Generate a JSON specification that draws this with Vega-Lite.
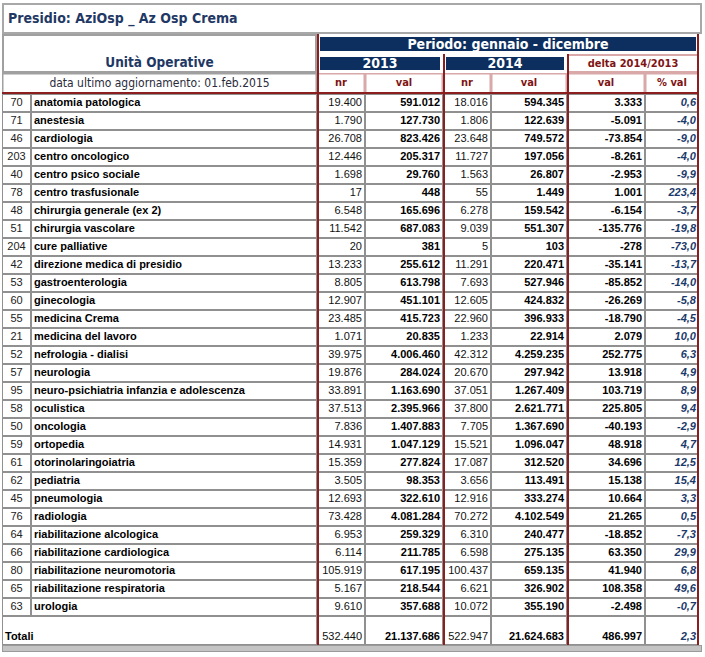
{
  "$schema": "https://vega.github.io/schema/vega-lite/v6.json",
  "background": "white",
  "padding": {"left": 2, "top": 3, "right": 0, "bottom": 0},
  "config": {
    "locale": {"number": {"decimal": ",", "thousands": ".", "grouping": [3], "currency": ["€", ""], "minus": "-"}},
    "view": {"stroke": null},
    "concat": {"spacing": 0}
  },
  "datasets": {
    "one": [{"k": 1}],
    "units": [
      {"code": 70, "unit": "anatomia patologica", "nr2013": 19400, "val2013": 591012, "nr2014": 18016, "val2014": 594345, "delta": 3333, "pct": 0.6},
      {"code": 71, "unit": "anestesia", "nr2013": 1790, "val2013": 127730, "nr2014": 1806, "val2014": 122639, "delta": -5091, "pct": -4.0},
      {"code": 46, "unit": "cardiologia", "nr2013": 26708, "val2013": 823426, "nr2014": 23648, "val2014": 749572, "delta": -73854, "pct": -9.0},
      {"code": 203, "unit": "centro oncologico", "nr2013": 12446, "val2013": 205317, "nr2014": 11727, "val2014": 197056, "delta": -8261, "pct": -4.0},
      {"code": 40, "unit": "centro psico sociale", "nr2013": 1698, "val2013": 29760, "nr2014": 1563, "val2014": 26807, "delta": -2953, "pct": -9.9},
      {"code": 78, "unit": "centro trasfusionale", "nr2013": 17, "val2013": 448, "nr2014": 55, "val2014": 1449, "delta": 1001, "pct": 223.4},
      {"code": 48, "unit": "chirurgia generale (ex 2)", "nr2013": 6548, "val2013": 165696, "nr2014": 6278, "val2014": 159542, "delta": -6154, "pct": -3.7},
      {"code": 51, "unit": "chirurgia vascolare", "nr2013": 11542, "val2013": 687083, "nr2014": 9039, "val2014": 551307, "delta": -135776, "pct": -19.8},
      {"code": 204, "unit": "cure palliative", "nr2013": 20, "val2013": 381, "nr2014": 5, "val2014": 103, "delta": -278, "pct": -73.0},
      {"code": 42, "unit": "direzione medica di presidio", "nr2013": 13233, "val2013": 255612, "nr2014": 11291, "val2014": 220471, "delta": -35141, "pct": -13.7},
      {"code": 53, "unit": "gastroenterologia", "nr2013": 8805, "val2013": 613798, "nr2014": 7693, "val2014": 527946, "delta": -85852, "pct": -14.0},
      {"code": 60, "unit": "ginecologia", "nr2013": 12907, "val2013": 451101, "nr2014": 12605, "val2014": 424832, "delta": -26269, "pct": -5.8},
      {"code": 55, "unit": "medicina Crema", "nr2013": 23485, "val2013": 415723, "nr2014": 22960, "val2014": 396933, "delta": -18790, "pct": -4.5},
      {"code": 21, "unit": "medicina del lavoro", "nr2013": 1071, "val2013": 20835, "nr2014": 1233, "val2014": 22914, "delta": 2079, "pct": 10.0},
      {"code": 52, "unit": "nefrologia - dialisi", "nr2013": 39975, "val2013": 4006460, "nr2014": 42312, "val2014": 4259235, "delta": 252775, "pct": 6.3},
      {"code": 57, "unit": "neurologia", "nr2013": 19876, "val2013": 284024, "nr2014": 20670, "val2014": 297942, "delta": 13918, "pct": 4.9},
      {"code": 95, "unit": "neuro-psichiatria infanzia e adolescenza", "nr2013": 33891, "val2013": 1163690, "nr2014": 37051, "val2014": 1267409, "delta": 103719, "pct": 8.9},
      {"code": 58, "unit": "oculistica", "nr2013": 37513, "val2013": 2395966, "nr2014": 37800, "val2014": 2621771, "delta": 225805, "pct": 9.4},
      {"code": 50, "unit": "oncologia", "nr2013": 7836, "val2013": 1407883, "nr2014": 7705, "val2014": 1367690, "delta": -40193, "pct": -2.9},
      {"code": 59, "unit": "ortopedia", "nr2013": 14931, "val2013": 1047129, "nr2014": 15521, "val2014": 1096047, "delta": 48918, "pct": 4.7},
      {"code": 61, "unit": "otorinolaringoiatria", "nr2013": 15359, "val2013": 277824, "nr2014": 17087, "val2014": 312520, "delta": 34696, "pct": 12.5},
      {"code": 62, "unit": "pediatria", "nr2013": 3505, "val2013": 98353, "nr2014": 3656, "val2014": 113491, "delta": 15138, "pct": 15.4},
      {"code": 45, "unit": "pneumologia", "nr2013": 12693, "val2013": 322610, "nr2014": 12916, "val2014": 333274, "delta": 10664, "pct": 3.3},
      {"code": 76, "unit": "radiologia", "nr2013": 73428, "val2013": 4081284, "nr2014": 70272, "val2014": 4102549, "delta": 21265, "pct": 0.5},
      {"code": 64, "unit": "riabilitazione alcologica", "nr2013": 6953, "val2013": 259329, "nr2014": 6310, "val2014": 240477, "delta": -18852, "pct": -7.3},
      {"code": 66, "unit": "riabilitazione cardiologica", "nr2013": 6114, "val2013": 211785, "nr2014": 6598, "val2014": 275135, "delta": 63350, "pct": 29.9},
      {"code": 80, "unit": "riabilitazione neuromotoria", "nr2013": 105919, "val2013": 617195, "nr2014": 100437, "val2014": 659135, "delta": 41940, "pct": 6.8},
      {"code": 65, "unit": "riabilitazione respiratoria", "nr2013": 5167, "val2013": 218544, "nr2014": 6621, "val2014": 326902, "delta": 108358, "pct": 49.6},
      {"code": 63, "unit": "urologia", "nr2013": 9610, "val2013": 357688, "nr2014": 10072, "val2014": 355190, "delta": -2498, "pct": -0.7}
    ],
    "totali": [
      {"label": "Totali", "nr2013": 532440, "val2013": 21137686, "nr2014": 522947, "val2014": 21624683, "delta": 486997, "pct": 2.3}
    ]
  },
  "spacing": 0,
  "vconcat": [
    {
      "width": 700, "height": 31, "data": {"name": "one"},
      "layer": [
        {"mark": {"type": "rect", "clip": true, "fill": "white", "stroke": "#a8a8a8", "strokeWidth": 4}, "encoding": {}},
        {"mark": {"type": "text", "clip": true, "text": "Presidio: AziOsp _ Az Osp Crema", "align": "left", "dx": 6, "font": "Liberation Sans Narrow, DejaVu Sans Condensed, sans-serif", "fontSize": 14, "fontWeight": "bold", "fill": "#1f3864"},
         "encoding": {"x": {"datum": 0, "type": "quantitative", "scale": {"domain": [0, 1]}, "axis": null}}}
      ]
    },
    {
      "spacing": 0,
      "hconcat": [
        {
          "spacing": 0,
          "vconcat": [
            {
              "width": 315, "height": 39, "data": {"name": "one"},
              "layer": [
                {"mark": {"type": "rect", "clip": true, "fill": "white", "stroke": "#a0a0a0", "strokeWidth": 4}, "encoding": {}},
                {"mark": {"type": "text", "clip": true, "text": "Unità Operative", "dy": 9, "font": "Liberation Sans Narrow, DejaVu Sans Condensed, sans-serif", "fontSize": 13.5, "fontWeight": "bold", "fill": "#1f3864"}, "encoding": {}}
              ]
            },
            {
              "width": 315, "height": 21, "data": {"name": "one"},
              "layer": [
                {"mark": {"type": "rect", "clip": true, "fill": "white", "stroke": "#a0a0a0", "strokeWidth": 3}, "encoding": {}},
                {"mark": {"type": "text", "clip": true, "text": "data ultimo aggiornamento: 01.feb.2015", "dy": -1, "font": "Liberation Sans Narrow, DejaVu Sans Condensed, sans-serif", "fontSize": 12, "fill": "#2b2b3b"}, "encoding": {}},
                {"mark": {"type": "rule", "clip": true, "color": "#8b1f1f", "strokeWidth": 4}, "encoding": {"y": {"datum": 0, "type": "quantitative", "scale": {"domain": [0, 1]}, "axis": null}}}
              ]
            }
          ]
        },
        {
          "spacing": 0,
          "vconcat": [
            {
              "width": 382, "height": 20, "data": {"name": "one"},
              "layer": [
                {"mark": {"type": "rect", "clip": true, "fill": "#0d2f5f", "stroke": "white", "strokeWidth": 6}, "encoding": {}},
                {"mark": {"type": "text", "clip": true, "text": "Periodo: gennaio - dicembre", "dy": 1, "font": "Liberation Sans Narrow, DejaVu Sans Condensed, sans-serif", "fontSize": 14, "fontWeight": "bold", "fill": "white"}, "encoding": {}},
                {"mark": {"type": "rule", "clip": true, "color": "#8b1f1f", "strokeWidth": 4}, "encoding": {"x": {"datum": 0, "type": "quantitative", "scale": {"domain": [0, 1]}, "axis": null}}},
                {"mark": {"type": "rule", "clip": true, "color": "#8b1f1f", "strokeWidth": 4}, "encoding": {"x": {"datum": 1, "type": "quantitative", "scale": {"domain": [0, 1]}, "axis": null}}}
              ]
            },
            {
              "spacing": 0,
              "hconcat": [
                {
                  "width": 126, "height": 19, "data": {"name": "one"},
                  "layer": [
                    {"mark": {"type": "rect", "clip": true, "fill": "#0d2f5f", "stroke": "white", "strokeWidth": 6}, "encoding": {}},
                    {"mark": {"type": "text", "clip": true, "text": "2013", "font": "Liberation Sans Narrow, DejaVu Sans Condensed, sans-serif", "fontSize": 14, "fontWeight": "bold", "fill": "white"}, "encoding": {}},
                    {"mark": {"type": "rule", "clip": true, "color": "#8b1f1f", "strokeWidth": 4}, "encoding": {"x": {"datum": 0, "type": "quantitative", "scale": {"domain": [0, 1]}, "axis": null}}}
                  ]
                },
                {
                  "width": 124, "height": 19, "data": {"name": "one"},
                  "layer": [
                    {"mark": {"type": "rect", "clip": true, "fill": "#0d2f5f", "stroke": "white", "strokeWidth": 6}, "encoding": {}},
                    {"mark": {"type": "text", "clip": true, "text": "2014", "font": "Liberation Sans Narrow, DejaVu Sans Condensed, sans-serif", "fontSize": 14, "fontWeight": "bold", "fill": "white"}, "encoding": {}},
                    {"mark": {"type": "rule", "clip": true, "color": "#8b1f1f", "strokeWidth": 4}, "encoding": {"x": {"datum": 0, "type": "quantitative", "scale": {"domain": [0, 1]}, "axis": null}}}
                  ]
                },
                {
                  "width": 132, "height": 19, "data": {"name": "one"},
                  "layer": [
                    {"mark": {"type": "rect", "clip": true, "fill": "white", "stroke": "#d9a8a8", "strokeWidth": 4}, "encoding": {}},
                    {"mark": {"type": "text", "clip": true, "text": "delta 2014/2013", "font": "Liberation Sans Narrow, DejaVu Sans Condensed, sans-serif", "fontSize": 11, "fontWeight": "bold", "fill": "#7f1414"}, "encoding": {}},
                    {"mark": {"type": "rule", "clip": true, "color": "#8b1f1f", "strokeWidth": 4}, "encoding": {"x": {"datum": 0, "type": "quantitative", "scale": {"domain": [0, 1]}, "axis": null}}},
                    {"mark": {"type": "rule", "clip": true, "color": "#8b1f1f", "strokeWidth": 4}, "encoding": {"x": {"datum": 1, "type": "quantitative", "scale": {"domain": [0, 1]}, "axis": null}}}
                  ]
                }
              ]
            },
            {
              "spacing": 0,
              "hconcat": [
                {
                  "width": 48, "height": 21, "data": {"name": "one"},
                  "layer": [
                    {"mark": {"type": "rect", "clip": true, "fill": "white", "stroke": "#d9a8a8", "strokeWidth": 3}, "encoding": {}},
                    {"mark": {"type": "text", "clip": true, "text": "nr", "dy": -1, "font": "Liberation Sans Narrow, DejaVu Sans Condensed, sans-serif", "fontSize": 11, "fontWeight": "bold", "fill": "#7f1414"}, "encoding": {}},
                    {"mark": {"type": "rule", "clip": true, "color": "#8b1f1f", "strokeWidth": 4}, "encoding": {"x": {"datum": 0, "type": "quantitative", "scale": {"domain": [0, 1]}, "axis": null}}},
                    {"mark": {"type": "rule", "clip": true, "color": "#8b1f1f", "strokeWidth": 4}, "encoding": {"y": {"datum": 0, "type": "quantitative", "scale": {"domain": [0, 1]}, "axis": null}}}
                  ]
                },
                {
                  "width": 78, "height": 21, "data": {"name": "one"},
                  "layer": [
                    {"mark": {"type": "rect", "clip": true, "fill": "white", "stroke": "#d9a8a8", "strokeWidth": 3}, "encoding": {}},
                    {"mark": {"type": "text", "clip": true, "text": "val", "dy": -1, "font": "Liberation Sans Narrow, DejaVu Sans Condensed, sans-serif", "fontSize": 11, "fontWeight": "bold", "fill": "#7f1414"}, "encoding": {}},
                    {"mark": {"type": "rule", "clip": true, "color": "#8b1f1f", "strokeWidth": 4}, "encoding": {"y": {"datum": 0, "type": "quantitative", "scale": {"domain": [0, 1]}, "axis": null}}}
                  ]
                },
                {
                  "width": 48, "height": 21, "data": {"name": "one"},
                  "layer": [
                    {"mark": {"type": "rect", "clip": true, "fill": "white", "stroke": "#d9a8a8", "strokeWidth": 3}, "encoding": {}},
                    {"mark": {"type": "text", "clip": true, "text": "nr", "dy": -1, "font": "Liberation Sans Narrow, DejaVu Sans Condensed, sans-serif", "fontSize": 11, "fontWeight": "bold", "fill": "#7f1414"}, "encoding": {}},
                    {"mark": {"type": "rule", "clip": true, "color": "#8b1f1f", "strokeWidth": 4}, "encoding": {"x": {"datum": 0, "type": "quantitative", "scale": {"domain": [0, 1]}, "axis": null}}},
                    {"mark": {"type": "rule", "clip": true, "color": "#8b1f1f", "strokeWidth": 4}, "encoding": {"y": {"datum": 0, "type": "quantitative", "scale": {"domain": [0, 1]}, "axis": null}}}
                  ]
                },
                {
                  "width": 76, "height": 21, "data": {"name": "one"},
                  "layer": [
                    {"mark": {"type": "rect", "clip": true, "fill": "white", "stroke": "#d9a8a8", "strokeWidth": 3}, "encoding": {}},
                    {"mark": {"type": "text", "clip": true, "text": "val", "dy": -1, "font": "Liberation Sans Narrow, DejaVu Sans Condensed, sans-serif", "fontSize": 11, "fontWeight": "bold", "fill": "#7f1414"}, "encoding": {}},
                    {"mark": {"type": "rule", "clip": true, "color": "#8b1f1f", "strokeWidth": 4}, "encoding": {"y": {"datum": 0, "type": "quantitative", "scale": {"domain": [0, 1]}, "axis": null}}}
                  ]
                },
                {
                  "width": 78, "height": 21, "data": {"name": "one"},
                  "layer": [
                    {"mark": {"type": "rect", "clip": true, "fill": "white", "stroke": "#d9a8a8", "strokeWidth": 3}, "encoding": {}},
                    {"mark": {"type": "text", "clip": true, "text": "val", "dy": -1, "font": "Liberation Sans Narrow, DejaVu Sans Condensed, sans-serif", "fontSize": 11, "fontWeight": "bold", "fill": "#7f1414"}, "encoding": {}},
                    {"mark": {"type": "rule", "clip": true, "color": "#8b1f1f", "strokeWidth": 4}, "encoding": {"x": {"datum": 0, "type": "quantitative", "scale": {"domain": [0, 1]}, "axis": null}}},
                    {"mark": {"type": "rule", "clip": true, "color": "#8b1f1f", "strokeWidth": 4}, "encoding": {"y": {"datum": 0, "type": "quantitative", "scale": {"domain": [0, 1]}, "axis": null}}}
                  ]
                },
                {
                  "width": 54, "height": 21, "data": {"name": "one"},
                  "layer": [
                    {"mark": {"type": "rect", "clip": true, "fill": "white", "stroke": "#d9a8a8", "strokeWidth": 3}, "encoding": {}},
                    {"mark": {"type": "text", "clip": true, "text": "% val", "dy": -1, "font": "Liberation Sans Narrow, DejaVu Sans Condensed, sans-serif", "fontSize": 11, "fontWeight": "bold", "fill": "#7f1414"}, "encoding": {}},
                    {"mark": {"type": "rule", "clip": true, "color": "#8b1f1f", "strokeWidth": 4}, "encoding": {"x": {"datum": 1, "type": "quantitative", "scale": {"domain": [0, 1]}, "axis": null}}},
                    {"mark": {"type": "rule", "clip": true, "color": "#8b1f1f", "strokeWidth": 4}, "encoding": {"y": {"datum": 0, "type": "quantitative", "scale": {"domain": [0, 1]}, "axis": null}}}
                  ]
                }
              ]
            }
          ]
        }
      ]
    },
    {
      "spacing": 0,
      "hconcat": [
        {
          "width": 29, "height": 522, "data": {"name": "units"},
          "layer": [
            {"mark": {"type": "rect", "clip": true, "fill": "white", "stroke": "#909090", "strokeWidth": 2}, "encoding": {"y": {"field": "unit", "type": "nominal", "sort": null, "axis": null, "scale": {"paddingInner": 0, "paddingOuter": 0}}}},
            {"mark": {"type": "text", "clip": true, "font": "Liberation Sans, Arial, sans-serif", "fontSize": 11, "fill": "#222"},
             "encoding": {"y": {"field": "unit", "type": "nominal", "sort": null, "axis": null}, "text": {"field": "code", "type": "nominal"}}}
          ]
        },
        {
          "width": 286, "height": 522, "data": {"name": "units"},
          "layer": [
            {"mark": {"type": "rect", "clip": true, "fill": "white", "stroke": "#909090", "strokeWidth": 2}, "encoding": {"y": {"field": "unit", "type": "nominal", "sort": null, "axis": null, "scale": {"paddingInner": 0, "paddingOuter": 0}}}},
            {"mark": {"type": "text", "clip": true, "align": "left", "dx": 3, "font": "Liberation Sans, Arial, sans-serif", "fontSize": 11, "fontWeight": "bold", "fill": "#000"},
             "encoding": {"y": {"field": "unit", "type": "nominal", "sort": null, "axis": null}, "x": {"datum": 0, "type": "quantitative", "scale": {"domain": [0, 1]}, "axis": null}, "text": {"field": "unit", "type": "nominal"}}}
          ]
        },
        {
          "width": 48, "height": 522, "data": {"name": "units"},
          "layer": [
            {"mark": {"type": "rect", "clip": true, "fill": "white", "stroke": "#909090", "strokeWidth": 2}, "encoding": {"y": {"field": "unit", "type": "nominal", "sort": null, "axis": null, "scale": {"paddingInner": 0, "paddingOuter": 0}}}},
            {"mark": {"type": "text", "clip": true, "align": "right", "dx": -3, "font": "Liberation Sans, Arial, sans-serif", "fontSize": 11, "fill": "#111"},
             "encoding": {"y": {"field": "unit", "type": "nominal", "sort": null, "axis": null}, "x": {"datum": 1, "type": "quantitative", "scale": {"domain": [0, 1]}, "axis": null}, "text": {"field": "nr2013", "type": "quantitative", "format": ",d"}}},
            {"data": {"name": "one"}, "mark": {"type": "rule", "clip": true, "color": "#8b1f1f", "strokeWidth": 4}, "encoding": {"x": {"datum": 0, "type": "quantitative", "scale": {"domain": [0, 1]}, "axis": null}}}
          ]
        },
        {
          "width": 78, "height": 522, "data": {"name": "units"},
          "layer": [
            {"mark": {"type": "rect", "clip": true, "fill": "white", "stroke": "#909090", "strokeWidth": 2}, "encoding": {"y": {"field": "unit", "type": "nominal", "sort": null, "axis": null, "scale": {"paddingInner": 0, "paddingOuter": 0}}}},
            {"mark": {"type": "text", "clip": true, "align": "right", "dx": -3, "font": "Liberation Sans, Arial, sans-serif", "fontSize": 11, "fontWeight": "bold", "fill": "#000"},
             "encoding": {"y": {"field": "unit", "type": "nominal", "sort": null, "axis": null}, "x": {"datum": 1, "type": "quantitative", "scale": {"domain": [0, 1]}, "axis": null}, "text": {"field": "val2013", "type": "quantitative", "format": ",d"}}}
          ]
        },
        {
          "width": 48, "height": 522, "data": {"name": "units"},
          "layer": [
            {"mark": {"type": "rect", "clip": true, "fill": "white", "stroke": "#909090", "strokeWidth": 2}, "encoding": {"y": {"field": "unit", "type": "nominal", "sort": null, "axis": null, "scale": {"paddingInner": 0, "paddingOuter": 0}}}},
            {"mark": {"type": "text", "clip": true, "align": "right", "dx": -3, "font": "Liberation Sans, Arial, sans-serif", "fontSize": 11, "fill": "#111"},
             "encoding": {"y": {"field": "unit", "type": "nominal", "sort": null, "axis": null}, "x": {"datum": 1, "type": "quantitative", "scale": {"domain": [0, 1]}, "axis": null}, "text": {"field": "nr2014", "type": "quantitative", "format": ",d"}}},
            {"data": {"name": "one"}, "mark": {"type": "rule", "clip": true, "color": "#8b1f1f", "strokeWidth": 4}, "encoding": {"x": {"datum": 0, "type": "quantitative", "scale": {"domain": [0, 1]}, "axis": null}}}
          ]
        },
        {
          "width": 76, "height": 522, "data": {"name": "units"},
          "layer": [
            {"mark": {"type": "rect", "clip": true, "fill": "white", "stroke": "#909090", "strokeWidth": 2}, "encoding": {"y": {"field": "unit", "type": "nominal", "sort": null, "axis": null, "scale": {"paddingInner": 0, "paddingOuter": 0}}}},
            {"mark": {"type": "text", "clip": true, "align": "right", "dx": -3, "font": "Liberation Sans, Arial, sans-serif", "fontSize": 11, "fontWeight": "bold", "fill": "#000"},
             "encoding": {"y": {"field": "unit", "type": "nominal", "sort": null, "axis": null}, "x": {"datum": 1, "type": "quantitative", "scale": {"domain": [0, 1]}, "axis": null}, "text": {"field": "val2014", "type": "quantitative", "format": ",d"}}}
          ]
        },
        {
          "width": 78, "height": 522, "data": {"name": "units"},
          "layer": [
            {"mark": {"type": "rect", "clip": true, "fill": "white", "stroke": "#909090", "strokeWidth": 2}, "encoding": {"y": {"field": "unit", "type": "nominal", "sort": null, "axis": null, "scale": {"paddingInner": 0, "paddingOuter": 0}}}},
            {"mark": {"type": "text", "clip": true, "align": "right", "dx": -3, "font": "Liberation Sans, Arial, sans-serif", "fontSize": 11, "fontWeight": "bold", "fill": "#000"},
             "encoding": {"y": {"field": "unit", "type": "nominal", "sort": null, "axis": null}, "x": {"datum": 1, "type": "quantitative", "scale": {"domain": [0, 1]}, "axis": null}, "text": {"field": "delta", "type": "quantitative", "format": ",d"}}},
            {"data": {"name": "one"}, "mark": {"type": "rule", "clip": true, "color": "#8b1f1f", "strokeWidth": 4}, "encoding": {"x": {"datum": 0, "type": "quantitative", "scale": {"domain": [0, 1]}, "axis": null}}}
          ]
        },
        {
          "width": 54, "height": 522, "data": {"name": "units"},
          "layer": [
            {"mark": {"type": "rect", "clip": true, "fill": "white", "stroke": "#909090", "strokeWidth": 2}, "encoding": {"y": {"field": "unit", "type": "nominal", "sort": null, "axis": null, "scale": {"paddingInner": 0, "paddingOuter": 0}}}},
            {"mark": {"type": "text", "clip": true, "align": "right", "dx": -3, "font": "Liberation Sans, Arial, sans-serif", "fontSize": 11, "fontWeight": "bold", "fontStyle": "italic", "fill": "#1b3a6b"},
             "encoding": {"y": {"field": "unit", "type": "nominal", "sort": null, "axis": null}, "x": {"datum": 1, "type": "quantitative", "scale": {"domain": [0, 1]}, "axis": null}, "text": {"field": "pct", "type": "quantitative", "format": ".1f"}}},
            {"data": {"name": "one"}, "mark": {"type": "rule", "clip": true, "color": "#8b1f1f", "strokeWidth": 4}, "encoding": {"x": {"datum": 1, "type": "quantitative", "scale": {"domain": [0, 1]}, "axis": null}}}
          ]
        }
      ]
    },
    {
      "spacing": 0,
      "hconcat": [
        {
          "width": 315, "height": 29, "data": {"name": "totali"},
          "layer": [
            {"mark": {"type": "rect", "clip": true, "fill": "white", "stroke": "#909090", "strokeWidth": 2}, "encoding": {}},
            {"mark": {"type": "text", "clip": true, "align": "left", "dx": 3, "dy": -8, "font": "Liberation Sans, Arial, sans-serif", "fontSize": 11, "fontWeight": "bold", "fill": "#000"},
             "encoding": {"x": {"datum": 0, "type": "quantitative", "scale": {"domain": [0, 1]}, "axis": null}, "y": {"datum": 0, "type": "quantitative", "scale": {"domain": [0, 1]}, "axis": null}, "text": {"field": "label", "type": "nominal"}}}
          ]
        },
        {
          "width": 48, "height": 29, "data": {"name": "totali"},
          "layer": [
            {"mark": {"type": "rect", "clip": true, "fill": "white", "stroke": "#909090", "strokeWidth": 2}, "encoding": {}},
            {"mark": {"type": "text", "clip": true, "align": "right", "dx": -3, "dy": -8, "font": "Liberation Sans, Arial, sans-serif", "fontSize": 11, "fill": "#111"},
             "encoding": {"x": {"datum": 1, "type": "quantitative", "scale": {"domain": [0, 1]}, "axis": null}, "y": {"datum": 0, "type": "quantitative", "scale": {"domain": [0, 1]}, "axis": null}, "text": {"field": "nr2013", "type": "quantitative", "format": ",d"}}},
            {"mark": {"type": "rule", "clip": true, "color": "#8b1f1f", "strokeWidth": 4}, "encoding": {"x": {"datum": 0, "type": "quantitative", "scale": {"domain": [0, 1]}, "axis": null}}}
          ]
        },
        {
          "width": 78, "height": 29, "data": {"name": "totali"},
          "layer": [
            {"mark": {"type": "rect", "clip": true, "fill": "white", "stroke": "#909090", "strokeWidth": 2}, "encoding": {}},
            {"mark": {"type": "text", "clip": true, "align": "right", "dx": -3, "dy": -8, "font": "Liberation Sans, Arial, sans-serif", "fontSize": 11, "fontWeight": "bold", "fill": "#000"},
             "encoding": {"x": {"datum": 1, "type": "quantitative", "scale": {"domain": [0, 1]}, "axis": null}, "y": {"datum": 0, "type": "quantitative", "scale": {"domain": [0, 1]}, "axis": null}, "text": {"field": "val2013", "type": "quantitative", "format": ",d"}}}
          ]
        },
        {
          "width": 48, "height": 29, "data": {"name": "totali"},
          "layer": [
            {"mark": {"type": "rect", "clip": true, "fill": "white", "stroke": "#909090", "strokeWidth": 2}, "encoding": {}},
            {"mark": {"type": "text", "clip": true, "align": "right", "dx": -3, "dy": -8, "font": "Liberation Sans, Arial, sans-serif", "fontSize": 11, "fill": "#111"},
             "encoding": {"x": {"datum": 1, "type": "quantitative", "scale": {"domain": [0, 1]}, "axis": null}, "y": {"datum": 0, "type": "quantitative", "scale": {"domain": [0, 1]}, "axis": null}, "text": {"field": "nr2014", "type": "quantitative", "format": ",d"}}},
            {"mark": {"type": "rule", "clip": true, "color": "#8b1f1f", "strokeWidth": 4}, "encoding": {"x": {"datum": 0, "type": "quantitative", "scale": {"domain": [0, 1]}, "axis": null}}}
          ]
        },
        {
          "width": 76, "height": 29, "data": {"name": "totali"},
          "layer": [
            {"mark": {"type": "rect", "clip": true, "fill": "white", "stroke": "#909090", "strokeWidth": 2}, "encoding": {}},
            {"mark": {"type": "text", "clip": true, "align": "right", "dx": -3, "dy": -8, "font": "Liberation Sans, Arial, sans-serif", "fontSize": 11, "fontWeight": "bold", "fill": "#000"},
             "encoding": {"x": {"datum": 1, "type": "quantitative", "scale": {"domain": [0, 1]}, "axis": null}, "y": {"datum": 0, "type": "quantitative", "scale": {"domain": [0, 1]}, "axis": null}, "text": {"field": "val2014", "type": "quantitative", "format": ",d"}}}
          ]
        },
        {
          "width": 78, "height": 29, "data": {"name": "totali"},
          "layer": [
            {"mark": {"type": "rect", "clip": true, "fill": "white", "stroke": "#909090", "strokeWidth": 2}, "encoding": {}},
            {"mark": {"type": "text", "clip": true, "align": "right", "dx": -3, "dy": -8, "font": "Liberation Sans, Arial, sans-serif", "fontSize": 11, "fontWeight": "bold", "fill": "#000"},
             "encoding": {"x": {"datum": 1, "type": "quantitative", "scale": {"domain": [0, 1]}, "axis": null}, "y": {"datum": 0, "type": "quantitative", "scale": {"domain": [0, 1]}, "axis": null}, "text": {"field": "delta", "type": "quantitative", "format": ",d"}}},
            {"mark": {"type": "rule", "clip": true, "color": "#8b1f1f", "strokeWidth": 4}, "encoding": {"x": {"datum": 0, "type": "quantitative", "scale": {"domain": [0, 1]}, "axis": null}}}
          ]
        },
        {
          "width": 54, "height": 29, "data": {"name": "totali"},
          "layer": [
            {"mark": {"type": "rect", "clip": true, "fill": "white", "stroke": "#909090", "strokeWidth": 2}, "encoding": {}},
            {"mark": {"type": "text", "clip": true, "align": "right", "dx": -3, "dy": -8, "font": "Liberation Sans, Arial, sans-serif", "fontSize": 11, "fontWeight": "bold", "fontStyle": "italic", "fill": "#1b3a6b"},
             "encoding": {"x": {"datum": 1, "type": "quantitative", "scale": {"domain": [0, 1]}, "axis": null}, "y": {"datum": 0, "type": "quantitative", "scale": {"domain": [0, 1]}, "axis": null}, "text": {"field": "pct", "type": "quantitative", "format": ".1f"}}},
            {"mark": {"type": "rule", "clip": true, "color": "#8b1f1f", "strokeWidth": 4}, "encoding": {"x": {"datum": 1, "type": "quantitative", "scale": {"domain": [0, 1]}, "axis": null}}}
          ]
        }
      ]
    },
    {
      "width": 700, "height": 7, "data": {"name": "one"},
      "mark": {"type": "rect", "clip": true, "fill": "#c4c4c4", "stroke": "#9a9a9a", "strokeWidth": 2},
      "encoding": {}
    }
  ]
}
